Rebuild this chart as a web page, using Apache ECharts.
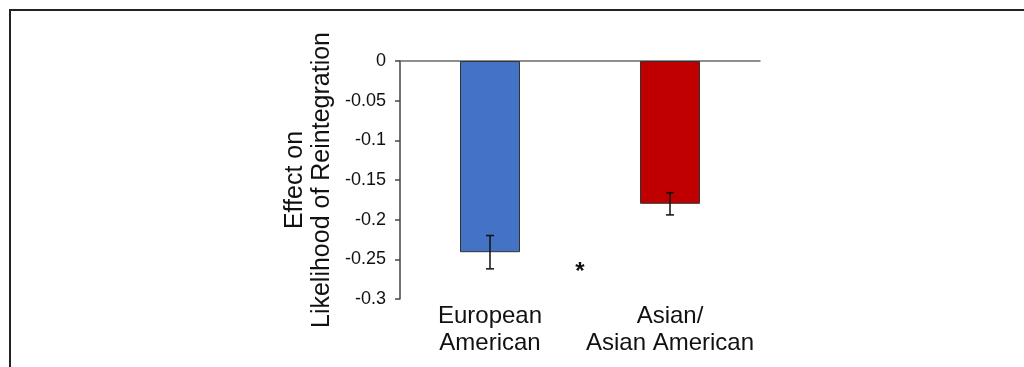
<!DOCTYPE html>
<html>
<head>
<meta charset="utf-8">
<script src="https://cdn.jsdelivr.net/npm/echarts@6/dist/echarts.min.js"></script>
<style>
html,body{margin:0;padding:0;background:#fff;}
#frame{position:absolute;left:9px;top:9px;width:1015px;height:358px;border-top:2px solid #222;border-left:2px solid #222;box-sizing:border-box;}
#chart{position:absolute;left:0;top:0;width:1024px;height:367px;}
</style>
</head>
<body>
<div id="frame"></div>
<div id="chart"></div>
<script>
const categories = ['European\nAmerican', 'Asian/\nAsian American'];
const effects = [-0.241, -0.180];
const errors = [0.021, 0.014];
const barColors = ['#4472C4', '#C00000'];
const yTicks = { min: -0.3, max: 0, interval: 0.05 };
const significance = { label: '*', between: [0, 1], y: -0.266 };

const chart = echarts.init(document.getElementById('chart'));
const font = 'Liberation Sans, Arial, sans-serif';

chart.setOption({
  animation: false,
  grid: { left: 400, right: 264, top: 61, bottom: 68 },
  xAxis: [
    {
      type: 'category', data: categories, position: 'top',
      axisLine: { show: true, onZero: false, lineStyle: { color: '#6a6a6a', width: 1.5 } },
      axisTick: { show: false }, axisLabel: { show: false }
    },
    {
      type: 'category', data: categories, position: 'bottom',
      axisLine: { show: false }, axisTick: { show: false },
      axisLabel: { interval: 0, hideOverlap: false, color: '#111', fontSize: 24, fontFamily: font, lineHeight: 27, margin: 4 }
    }
  ],
  yAxis: {
    type: 'value', min: yTicks.min, max: yTicks.max, interval: yTicks.interval,
    name: 'Effect on\nLikelihood of Reintegration',
    nameLocation: 'middle', nameRotate: 90, nameGap: 64,
    nameTextStyle: { color: '#111', fontSize: 25, fontFamily: font, lineHeight: 27 },
    axisLine: { show: true, lineStyle: { color: '#444', width: 1.5 } },
    axisTick: { show: true, length: 5, lineStyle: { color: '#444', width: 1.5 } },
    axisLabel: { color: '#111', fontSize: 18, fontFamily: font, margin: 14 },
    splitLine: { show: false }
  },
  series: [
    {
      type: 'bar', xAxisIndex: 0, barWidth: 60,
      data: effects.map((v, i) => ({ value: v, itemStyle: { color: barColors[i] } })),
      itemStyle: { borderColor: '#333', borderWidth: 1 }
    },
    {
      type: 'custom', xAxisIndex: 0, z: 10,
      data: effects.map((v, i) => [i, v - errors[i], v + errors[i]]),
      renderItem: function (params, api) {
        const lo = api.coord([api.value(0), api.value(1)]);
        const hi = api.coord([api.value(0), api.value(2)]);
        const cap = 4;
        const st = { stroke: '#111', lineWidth: 1.5 };
        return {
          type: 'group',
          children: [
            { type: 'line', shape: { x1: lo[0], y1: lo[1], x2: hi[0], y2: hi[1] }, style: st },
            { type: 'line', shape: { x1: lo[0] - cap, y1: lo[1], x2: lo[0] + cap, y2: lo[1] }, style: st },
            { type: 'line', shape: { x1: hi[0] - cap, y1: hi[1], x2: hi[0] + cap, y2: hi[1] }, style: st }
          ]
        };
      }
    }
  ]
});

const p0 = chart.convertToPixel({ xAxisIndex: 0, yAxisIndex: 0 }, [significance.between[0], significance.y]);
const p1 = chart.convertToPixel({ xAxisIndex: 0, yAxisIndex: 0 }, [significance.between[1], significance.y]);
chart.setOption({
  graphic: [{
    type: 'text', x: (p0[0] + p1[0]) / 2, y: p0[1],
    style: { text: significance.label, fill: '#111', font: 'bold 24px ' + font, textAlign: 'center', textVerticalAlign: 'middle' }
  }]
});
</script>
</body>
</html>
